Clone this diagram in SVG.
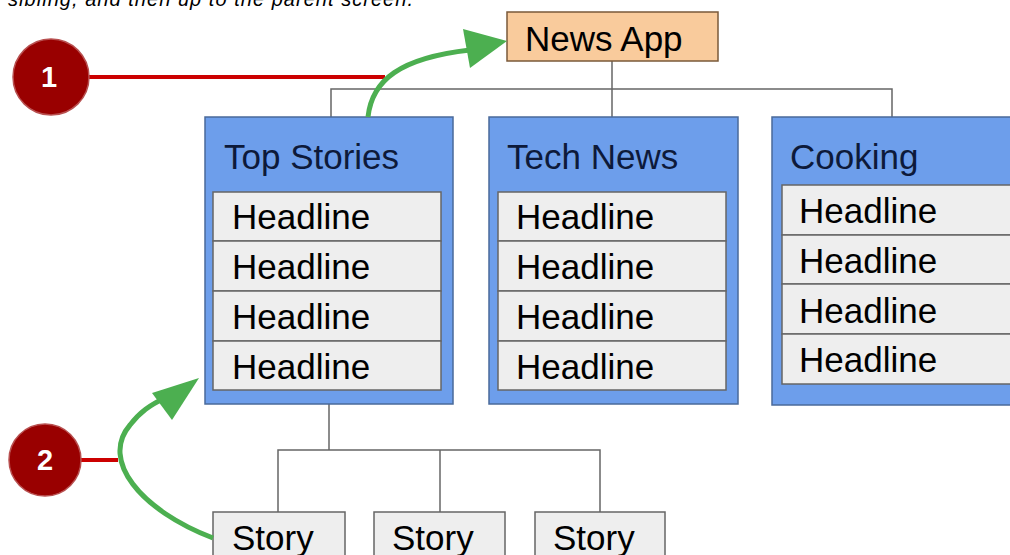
<svg xmlns="http://www.w3.org/2000/svg" width="1010" height="555" viewBox="0 0 1010 555">
<style>
.t{font-family:"Liberation Sans",Arial,sans-serif;font-size:35px;fill:#000}
.title{font-family:"Liberation Sans",Arial,sans-serif;font-size:35px;fill:#0d1a3a}
.screen{fill:#6d9eeb;stroke:#4a6a9a;stroke-width:1.5}
.list{fill:#eeeeee;stroke:#666;stroke-width:1.5}
.conn{fill:none;stroke:#666;stroke-width:1.5}
.red{stroke:#cc0000;stroke-width:4;fill:none}
.badge{fill:#990000;stroke:#b85050;stroke-width:1.5}
.num{font-family:"Liberation Sans",Arial,sans-serif;font-size:29px;font-weight:bold;fill:#fff;text-anchor:middle}
.green{fill:none;stroke:#4caf50;stroke-width:5}
.head{fill:#4caf50}
</style>
<rect width="1010" height="555" fill="#fff"/>
<text x="8" y="6" style="font-family:'Liberation Sans',Arial,sans-serif;font-size:20px;font-style:italic;fill:#000" textLength="405">sibling, and then up to the parent screen.</text>

<g id="connectors">
<polyline class="conn" points="612,61 612,89"/>
<polyline class="conn" points="331,117 331,89 892,89 892,117"/>
<polyline class="conn" points="612,89 612,117"/>
<polyline class="conn" points="329,404 329,450"/>
<polyline class="conn" points="278,512 278,450 600,450 600,512"/>
<polyline class="conn" points="440,450 440,512"/>
</g>

<g id="news-app">
<rect x="507" y="12" width="211" height="49" fill="#f9cb9c" stroke="#7a5a3a" stroke-width="1.5"/>
<text class="t" x="525" y="51">News App</text>
</g>

<g id="top-stories">
<rect class="screen" x="205" y="117" width="248" height="287"/>
<text class="title" x="224" y="169">Top Stories</text>
<rect class="list" x="213" y="192" width="228" height="49"/>
<rect class="list" x="213" y="241" width="228" height="50"/>
<rect class="list" x="213" y="291" width="228" height="50"/>
<rect class="list" x="213" y="341" width="228" height="49"/>
<text class="t" x="232" y="229">Headline</text>
<text class="t" x="232" y="279">Headline</text>
<text class="t" x="232" y="329">Headline</text>
<text class="t" x="232" y="379">Headline</text>
</g>

<g id="tech-news">
<rect class="screen" x="489" y="117" width="249" height="287"/>
<text class="title" x="507" y="169">Tech News</text>
<rect class="list" x="498" y="192" width="228" height="49"/>
<rect class="list" x="498" y="241" width="228" height="50"/>
<rect class="list" x="498" y="291" width="228" height="50"/>
<rect class="list" x="498" y="341" width="228" height="49"/>
<text class="t" x="516" y="229">Headline</text>
<text class="t" x="516" y="279">Headline</text>
<text class="t" x="516" y="329">Headline</text>
<text class="t" x="516" y="379">Headline</text>
</g>

<g id="cooking">
<rect class="screen" x="772" y="117" width="260" height="288"/>
<text class="title" x="790" y="169">Cooking</text>
<rect class="list" x="782" y="185" width="240" height="50"/>
<rect class="list" x="782" y="235" width="240" height="49"/>
<rect class="list" x="782" y="284" width="240" height="50"/>
<rect class="list" x="782" y="334" width="240" height="50"/>
<text class="t" x="799" y="223">Headline</text>
<text class="t" x="799" y="273">Headline</text>
<text class="t" x="799" y="323">Headline</text>
<text class="t" x="799" y="372">Headline</text>
</g>

<g id="story-1">
<rect class="list" x="213" y="512" width="132" height="60"/>
<text class="t" x="232" y="550">Story</text>
</g>
<g id="story-2">
<rect class="list" x="374" y="512" width="131" height="60"/>
<text class="t" x="392" y="550">Story</text>
</g>
<g id="story-3">
<rect class="list" x="535" y="512" width="130" height="60"/>
<text class="t" x="553" y="550">Story</text>
</g>

<g id="callout-1">
<line class="red" x1="85" y1="77" x2="385" y2="77"/>
<circle class="badge" cx="51" cy="77" r="38"/>
<text class="num" x="49" y="87">1</text>
<path class="green" d="M368,117 C372,80 400,58 470,50"/>
<polygon class="head" points="507,41 463,29 470,68"/>
</g>

<g id="callout-2">
<line class="red" x1="78" y1="460" x2="118" y2="460"/>
<circle class="badge" cx="45" cy="460" r="36"/>
<text class="num" x="45" y="470">2</text>
<path class="green" d="M213,538 C140,510 100,460 130,425 C140,412 150,405 165,398"/>
<polygon class="head" points="199,378 152,393 172,420"/>
</g>
</svg>
